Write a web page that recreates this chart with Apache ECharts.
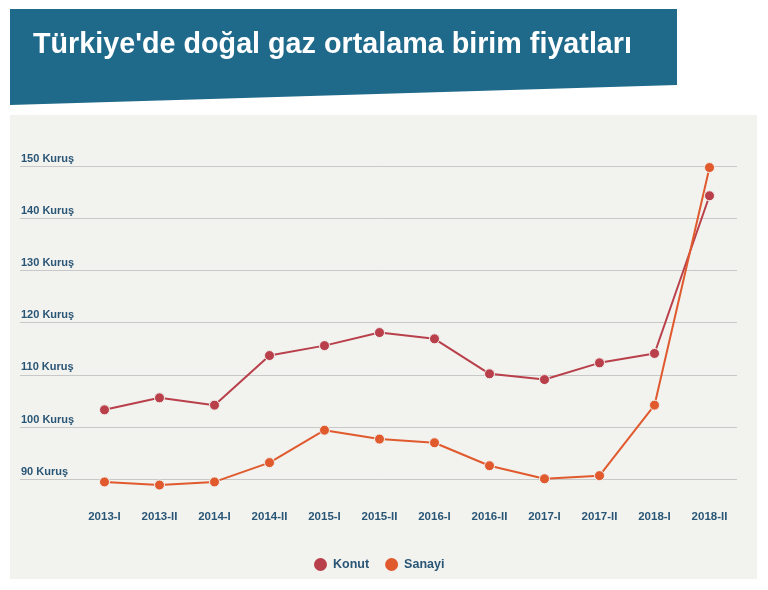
<!DOCTYPE html>
<html><head><meta charset="utf-8">
<script src="https://cdn.jsdelivr.net/npm/echarts@6/dist/echarts.min.js"></script>
<style>html,body{margin:0;padding:0;background:#fff}#c{width:768px;height:590px}</style>
</head><body><div id="c"></div>
<script>
var categories = ['2013-I','2013-II','2014-I','2014-II','2015-I','2015-II','2016-I','2016-II','2017-I','2017-II','2018-I','2018-II'];
var konut = [103.3,105.6,104.2,113.7,115.6,118.1,116.9,110.2,109.1,112.3,114.1,144.3];
var sanayi = [89.5,88.9,89.5,93.2,99.4,97.7,97.0,92.6,90.1,90.7,104.2,149.7];
var yTicks = [90,100,110,120,130,140,150];
var titleText = "Türkiye'de doğal gaz ortalama birim fiyatları";

var FONT = '"Liberation Sans",Arial,sans-serif';
var TXT = '#2a5676';
var titleFont = 'bold 29px ' + FONT;
var mctx = document.createElement('canvas').getContext('2d');
mctx.font = titleFont;
var tw = mctx.measureText(titleText).width;
var titleScale = 599 / tw;

var chart = echarts.init(document.getElementById('c'), null, {renderer:'canvas'});
var gridTop = 166, gridBottom = 590 - 479.3;
chart.setOption({
  backgroundColor: '#ffffff',
  animation: false,
  graphic: [
    {type:'rect', shape:{x:10,y:115,width:747,height:464}, style:{fill:'#f2f2ef'}, z:-10},
    {type:'polygon', shape:{points:[[10,9],[677,9],[677,85],[10,105]]}, style:{fill:'#1f6a8b'}, z:-9},
    {type:'text', x:33, y:45, scaleX:titleScale, scaleY:1,
     style:{x:0, y:0, text:titleText, fill:'#ffffff', font:titleFont, verticalAlign:'middle', align:'left'}, z:5}
  ],
  legend: {
    data:['Konut','Sanayi'], left:307, top:551, icon:'circle', itemWidth:15, itemHeight:15, itemGap:14,
    textStyle:{color:TXT, fontFamily:FONT, fontSize:12.5, fontWeight:'bold'}
  },
  grid: [
    {left:20, right:31, top:gridTop, bottom:gridBottom},
    {left:77, right:31, top:gridTop, bottom:gridBottom}
  ],
  xAxis: [
    {type:'value', gridIndex:0, show:false, min:0, max:1},
    {type:'category', gridIndex:1, data:categories, boundaryGap:true,
     axisLine:{show:false}, axisTick:{show:false},
     axisLabel:{margin:32, color:TXT, fontFamily:FONT, fontSize:11.5, fontWeight:'bold', interval:0}}
  ],
  yAxis: [
    {type:'value', gridIndex:0, min:90, max:150, interval:10,
     axisLine:{show:false}, axisTick:{show:false},
     splitLine:{lineStyle:{color:'#c8c8c8', width:1}},
     axisLabel:{inside:true, margin:1, verticalAlign:'bottom', padding:[0,0,2,0], color:TXT,
       fontFamily:FONT, fontSize:11, fontWeight:'bold',
       formatter:function(v){return yTicks.indexOf(v)>=0 ? v+' Kuruş' : '';}}},
    {type:'value', gridIndex:1, min:90, max:150, interval:10, show:false, splitLine:{show:false}}
  ],
  series: [
    {name:'Konut', type:'line', xAxisIndex:1, yAxisIndex:1, data:konut, clip:false,
     symbol:'circle', symbolSize:10, color:'#b9404a',
     lineStyle:{width:2, color:'#b9404a'}, itemStyle:{color:'#b9404a', borderColor:'#f2f2ef', borderWidth:1}},
    {name:'Sanayi', type:'line', xAxisIndex:1, yAxisIndex:1, data:sanayi, clip:false,
     symbol:'circle', symbolSize:10, color:'#e05a2e',
     lineStyle:{width:2, color:'#e05a2e'}, itemStyle:{color:'#e05a2e', borderColor:'#f2f2ef', borderWidth:1}}
  ]
});
</script></body></html>
